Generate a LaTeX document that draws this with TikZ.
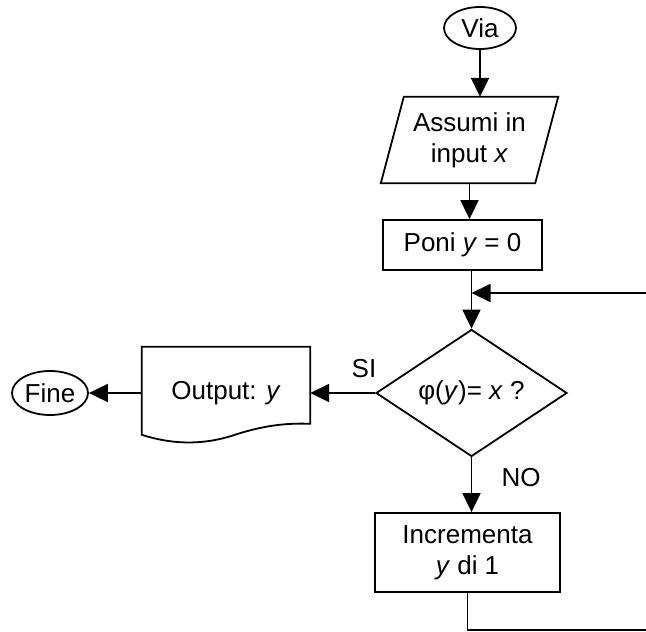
\documentclass[tikz,border=0pt]{standalone}
\usepackage{fontspec}
\setmainfont{Liberation Sans}
\usetikzlibrary{shapes.geometric,arrows.meta,calc}
\begin{document}
\begin{tikzpicture}[x=1pt,y=-1pt,
  every node/.style={font=\fontsize{26}{31}\selectfont, inner sep=0pt},
  ln/.style={line width=1.8pt},
  arr/.style={ln, -{Triangle[length=19pt,width=18pt]}},
  term/.style={ellipse, draw, ln},
  proc/.style={rectangle, draw, ln, align=center},
  decision/.style={diamond, draw, ln, aspect=1.5}
]
\useasboundingbox (0,0) rectangle (646,632);
\clip (0,0) rectangle (646,632);

\node[term, minimum width=72pt, minimum height=42pt] (via) at (480,28) {Via};
\node[minimum width=131pt, minimum height=86pt, align=center] (inp) at (469.5,140) {Assumi in\\input \textit{x}};
\draw[ln, line join=miter] (inp.north west) -- ($(inp.north east)+(23,0)$) -- (inp.south east) -- ($(inp.south west)+(-23,0)$) -- cycle;
\node[proc, minimum width=159pt, minimum height=50pt] (poni) at (462.5,245) {Poni \textit{y} = 0};
\node[decision, minimum width=191pt, minimum height=127pt] (dec) at (471.5,393) {φ(\textit{y})= \textit{x} ?};
\node[minimum width=168pt, minimum height=92pt] (out) at (226,393) {Output: \textit{y}};
\draw[ln, line join=miter] (out.north west) -- (out.north east) -- ($(out.north east)+(0,77)$)
  .. controls ($(out.north west)+(143,76)$) and ($(out.north west)+(120,79)$) .. ($(out.north west)+(90,89)$)
  .. controls ($(out.north west)+(58,99)$) and ($(out.north west)+(28,97)$) .. ($(out.north west)+(0,88)$) -- cycle;
\node[term, minimum width=76pt, minimum height=44pt] (fine) at (50,393) {Fine};
\node[proc, minimum width=185pt, minimum height=79pt] (inc) at (467.5,552.5) {Incrementa\\\textit{y} di 1};

\node (si) at (364,369) {SI};
\node (no) at (521,478) {NO};

\coordinate (jn) at (471.5,293);
\coordinate (rt) at (660,630);

\draw[arr] (via.south) -- (via.south |- inp.north);
\draw[arr] (inp.south) -- (inp.south |- poni.north);
\draw[arr] (dec.north |- poni.south) -- (dec.north);
\draw[arr] (dec.south) -- (dec.south |- inc.north);
\draw[arr] (dec.west) -- (out.east);
\draw[arr] (out.west) -- (fine.east);
\draw[arr] (inc.south) -- (inc.south |- rt) -- (rt) -- (rt |- jn) -- (jn);
\end{tikzpicture}
\end{document}
